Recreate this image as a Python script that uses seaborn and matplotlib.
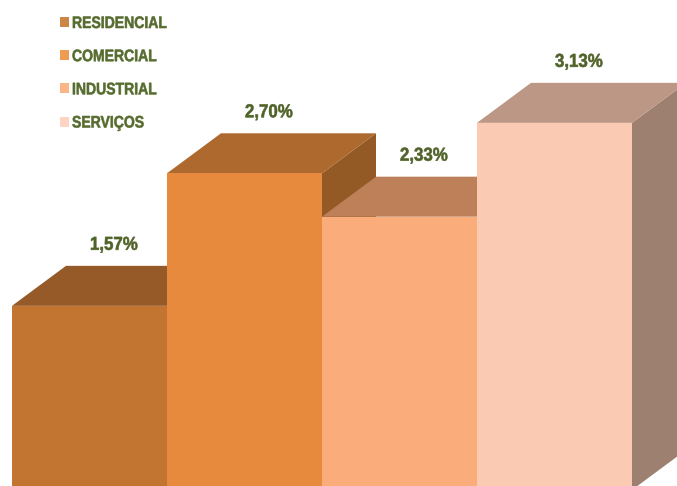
import seaborn as sns
import pandas as pd
import matplotlib.pyplot as plt
from matplotlib.patches import Polygon, Patch
from matplotlib.patheffects import AbstractPathEffect
from matplotlib.transforms import Affine2D

categories = ["RESIDENCIAL", "COMERCIAL", "INDUSTRIAL", "SERVIÇOS"]
values = [1.57, 2.70, 2.33, 3.13]
labels = ["1,57%", "2,70%", "2,33%", "3,13%"]

front_colors = ["#C27530", "#E78A3E", "#FAAC7B", "#FBCAB3"]
top_colors = ["#955A27", "#AE692E", "#BD8058", "#BC9785"]
side_colors = ["#855022", "#935A26", "#A86F4C", "#9E8070"]
legend_colors = ["#CC8647", "#EE9C52", "#FBB687", "#FDD3C1"]


# no condensed bold installed, so squeeze the glyphs sideways and thicken a bit
class Narrow(AbstractPathEffect):
    def __init__(self, sx):
        super().__init__()
        self.sx = sx

    def draw_path(self, renderer, gc, tpath, affine, rgbFace=None):
        gc0 = renderer.new_gc()
        gc0.copy_properties(gc)
        gc0.set_linewidth(0.4)
        gc0.set_foreground(rgbFace)
        renderer.draw_path(gc0, tpath, Affine2D().scale(self.sx, 1) + affine, rgbFace)
        gc0.restore()


sns.set_theme(style="white")
plt.rcParams["font.family"] = ["Liberation Sans", "DejaVu Sans"]

df = pd.DataFrame({"category": categories, "value": values})

fig = plt.figure(figsize=(6.77, 4.86), dpi=100)
ax = fig.add_axes([0, 0, 1, 1])
sns.barplot(data=df, x="category", y="value", hue="category", palette=front_colors,
            width=1, legend=False, saturation=1, linewidth=0, ax=ax)

# 155 px per bar, 117.3 px per unit
ax.set_xlim(-0.5 - 12 / 155, -0.5 + 665 / 155)
ax.set_ylim((490 - 486) / 117.3, 490 / 117.3)
ax.axis("off")

dx = 54 / 155
dy = 40 / 117.3

# fake 3d, each bar drawn over the one to its left
for i, p in enumerate(ax.patches):
    x0, w, h = p.get_x(), p.get_width(), p.get_height()
    z = 2 + i * 3
    ax.add_patch(Polygon([(x0 + w, 0), (x0 + w + dx, dy), (x0 + w + dx, h + dy), (x0 + w, h)],
                         facecolor=side_colors[i], edgecolor="none", zorder=z))
    ax.add_patch(Polygon([(x0, h), (x0 + dx, h + dy), (x0 + w + dx, h + dy), (x0 + w, h)],
                         facecolor=top_colors[i], edgecolor="none", zorder=z + 1))
    p.set_zorder(z + 2)
    t = ax.text(x0 + w / 2 + 27 / 155, h + 60.5 / 117.3, labels[i], ha="center", va="center",
                color="#4F6228", fontsize=13.5, fontweight="bold", zorder=30)
    t.set_path_effects([Narrow(0.9)])

handles = [Patch(facecolor=c, edgecolor="none") for c in legend_colors]
leg = ax.legend(handles, categories, loc="upper left", bbox_to_anchor=(60 / 677, 1 - 16 / 486),
                frameon=False, labelspacing=1.09, handlelength=0.54, handleheight=0.54,
                handletextpad=0.18, borderpad=0, borderaxespad=0, labelcolor="#566B2E",
                prop={"weight": "bold", "size": 12})
leg.set_zorder(40)
for t in leg.get_texts():
    t.set_path_effects([Narrow(0.84)])

plt.savefig("out.png", dpi=100)
